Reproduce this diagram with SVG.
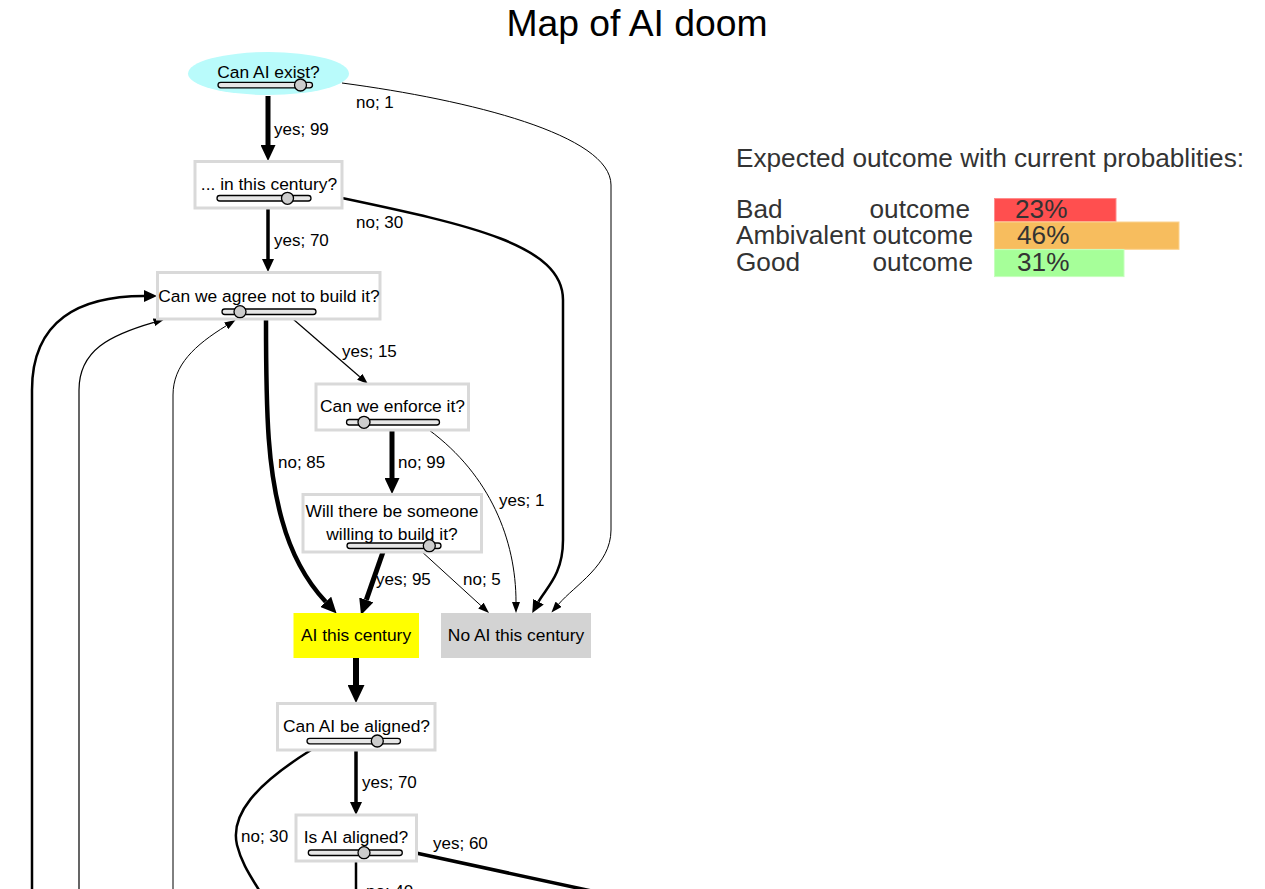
<svg xmlns="http://www.w3.org/2000/svg" width="1265" height="889" viewBox="0 0 1265 889">
<style>
text{font-family:"Liberation Sans",Arial,sans-serif;}
.nt{font-size:17.4px;fill:#000;text-anchor:middle;}
.lb{font-size:17px;fill:#000;}
.box{fill:#fff;stroke:#d9d9d9;stroke-width:3;}
.track{fill:#e6e6e6;stroke:#000;stroke-width:1.3;}
.knob{fill:#ccc;stroke:#000;stroke-width:1.3;}
.e{fill:none;stroke:#000;}
.lg{font-size:26.2px;fill:#333;}
</style>
<defs>
<marker id="aS" viewBox="0 0 11 8" refX="0" refY="4" markerWidth="11" markerHeight="8" markerUnits="userSpaceOnUse" orient="auto"><path d="M0,0 L11,4 L0,8 z" fill="#000"/></marker>
<marker id="aM" viewBox="0 0 13 12" refX="0" refY="6" markerWidth="13" markerHeight="12" markerUnits="userSpaceOnUse" orient="auto"><path d="M0,0 L13,6 L0,12 z" fill="#000"/></marker>
<marker id="aL" viewBox="0 0 16 15" refX="0" refY="7.5" markerWidth="16" markerHeight="15" markerUnits="userSpaceOnUse" orient="auto"><path d="M0,0 L16,7.5 L0,15 z" fill="#000"/></marker>
<marker id="aX" viewBox="0 0 18 17" refX="0" refY="8.5" markerWidth="18" markerHeight="17" markerUnits="userSpaceOnUse" orient="auto"><path d="M0,0 L18,8.5 L0,17 z" fill="#000"/></marker>
</defs>
<rect width="1265" height="889" fill="#fff"/>
<text x="637" y="36" style="font-size:37.3px;text-anchor:middle;fill:#000">Map of AI doom</text>

<g id="connectors">
<path class="e" d="M268 96 L268 145" stroke-width="5" marker-end="url(#aL)"/>
<path class="e" d="M342 83 C470 100 611 135 611 185 L611 530 C611 565 575 585 558.6 604.2" stroke-width="1" marker-end="url(#aS)"/>
<path class="e" d="M268 208 L268 259" stroke-width="3.5" marker-end="url(#aM)"/>
<path class="e" d="M342 198 C470 225 563 245 563 300 L563 540 C563 575 546 588 538.5 601.7" stroke-width="2.5" marker-end="url(#aM)"/>
<path class="e" d="M293 319 L359.7 376.8" stroke-width="1.2" marker-end="url(#aS)"/>
<path class="e" d="M266 319 C266 420 268 470 282 520 C293 560 310 585 325.7 601.8" stroke-width="4.5" marker-end="url(#aL)"/>
<path class="e" d="M392 430 L392 478" stroke-width="5" marker-end="url(#aL)"/>
<path class="e" d="M429 430 C490 475 516 540 516 602" stroke-width="1" marker-end="url(#aS)"/>
<path class="e" d="M383 552 L366.3 599.9" stroke-width="5" marker-end="url(#aL)"/>
<path class="e" d="M420 550 L480.9 605.6" stroke-width="1" marker-end="url(#aS)"/>
<path class="e" d="M356 658 L356 685" stroke-width="6" marker-end="url(#aX)"/>
<path class="e" d="M356 750 L356 802" stroke-width="3.5" marker-end="url(#aM)"/>
<path class="e" d="M311 750 C255 785 230 815 237 845 C242 865 252 878 262 895" stroke-width="2.5"/>
<path class="e" d="M416 853 L610 895" stroke-width="3.5"/>
<path class="e" d="M356 861 L356 895" stroke-width="2.5"/>
<path class="e" d="M32 895 L32 390 C32 320 80 296 144 296" stroke-width="2.5" marker-end="url(#aM)"/>
<path class="e" d="M79 895 L79 390 C79 350 110 335 153.9 322.3" stroke-width="1.2" marker-end="url(#aS)"/>
<path class="e" d="M173 895 L173 395 C173 365 195 345 226.2 325.8" stroke-width="1" marker-end="url(#aS)"/>
<text class="lb" x="356" y="108">no; 1</text>
<text class="lb" x="274" y="135">yes; 99</text>
<text class="lb" x="356" y="228">no; 30</text>
<text class="lb" x="274" y="246">yes; 70</text>
<text class="lb" x="342" y="357">yes; 15</text>
<text class="lb" x="278" y="468">no; 85</text>
<text class="lb" x="398" y="468">no; 99</text>
<text class="lb" x="499" y="506">yes; 1</text>
<text class="lb" x="376" y="585">yes; 95</text>
<text class="lb" x="463" y="585">no; 5</text>
<text class="lb" x="362" y="788">yes; 70</text>
<text class="lb" x="241" y="842">no; 30</text>
<text class="lb" x="433" y="849">yes; 60</text>
<text class="lb" x="366" y="897">no; 40</text>
</g>

<g id="n-exist">
<ellipse cx="268.5" cy="73.5" rx="80.5" ry="21.5" fill="#b9fbfb"/>
<text class="nt" x="268.5" y="78">Can AI exist?</text>
<rect class="track" x="218" y="82.3" width="94.5" height="5.5" rx="2.75"/>
<circle class="knob" cx="300.5" cy="85" r="6"/>
</g>
<g id="n-century">
<rect class="box" x="195" y="161.5" width="147" height="46.5"/>
<text class="nt" x="269" y="190">... in this century?</text>
<rect class="track" x="217" y="195.5" width="94" height="5.5" rx="2.75"/>
<circle class="knob" cx="287.5" cy="198.3" r="6"/>
</g>
<g id="n-agree">
<rect class="box" x="157.5" y="272.5" width="222.5" height="46.5"/>
<text class="nt" x="269" y="302">Can we agree not to build it?</text>
<rect class="track" x="222" y="309" width="94" height="5.5" rx="2.75"/>
<circle class="knob" cx="240" cy="311.7" r="6"/>
</g>
<g id="n-enforce">
<rect class="box" x="316" y="384" width="152.5" height="46"/>
<text class="nt" x="392.5" y="412">Can we enforce it?</text>
<rect class="track" x="346.5" y="419.5" width="93" height="5.5" rx="2.75"/>
<circle class="knob" cx="364" cy="422.3" r="6"/>
</g>
<g id="n-willing">
<rect class="box" x="303" y="494.5" width="178.5" height="57.5"/>
<text class="nt" x="392" y="517">Will there be someone</text>
<text class="nt" x="392" y="540">willing to build it?</text>
<rect class="track" x="347" y="543" width="94" height="5.5" rx="2.75"/>
<circle class="knob" cx="429.3" cy="545.7" r="6"/>
</g>
<g id="n-ai">
<rect x="293.5" y="613" width="125.5" height="45" fill="#ffff00"/>
<text class="nt" x="356" y="641">AI this century</text>
</g>
<g id="n-noai">
<rect x="441" y="613" width="150" height="45" fill="#d3d3d3"/>
<text class="nt" x="516" y="641">No AI this century</text>
</g>
<g id="n-canalign">
<rect class="box" x="277.5" y="703.5" width="157.5" height="46.5"/>
<text class="nt" x="356.5" y="732">Can AI be aligned?</text>
<rect class="track" x="307" y="738.3" width="93.5" height="5.5" rx="2.75"/>
<circle class="knob" cx="377.3" cy="741" r="6"/>
</g>
<g id="n-isalign">
<rect class="box" x="296" y="815" width="120.5" height="46"/>
<text class="nt" x="356" y="843">Is AI aligned?</text>
<rect class="track" x="308.3" y="850" width="94" height="5.5" rx="2.75"/>
<circle class="knob" cx="364" cy="852.7" r="6"/>
</g>

<g id="legend">
<text class="lg" x="736" y="167">Expected outcome with current probablities:</text>
<text class="lg" x="736" y="218.3">Bad</text>
<text class="lg" x="970" y="218.3" text-anchor="end">outcome</text>
<text class="lg" x="736" y="244.3">Ambivalent</text>
<text class="lg" x="973" y="244.3" text-anchor="end">outcome</text>
<text class="lg" x="736" y="270.5">Good</text>
<text class="lg" x="973" y="270.5" text-anchor="end">outcome</text>
<rect x="994.5" y="198.5" width="121.5" height="23.2" fill="#ff4f4f" stroke="#ff8c8c" stroke-width="1"/>
<rect x="994.5" y="222" width="184.5" height="27.3" fill="#f7bd5e" stroke="#fcd38f" stroke-width="1"/>
<rect x="994.5" y="249.6" width="129.5" height="27" fill="#a6ff99" stroke="#c6ffbd" stroke-width="1"/>
<text class="lg" x="1015" y="218.3">23%</text>
<text class="lg" x="1017" y="244.3">46%</text>
<text class="lg" x="1017" y="270.5">31%</text>
</g>
</svg>
